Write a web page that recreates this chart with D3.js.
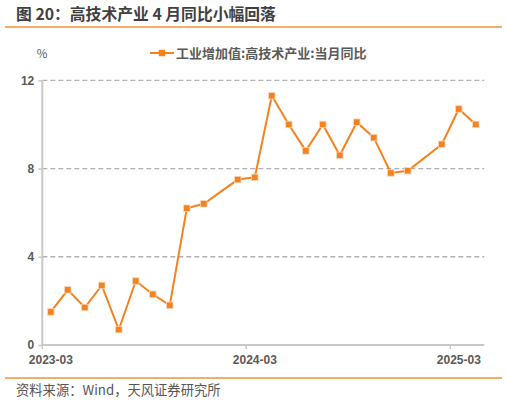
<!DOCTYPE html>
<html>
<head>
<meta charset="utf-8">
<script src="https://cdn.jsdelivr.net/npm/d3@7"></script>
<style>
  body { margin: 0; background: #fff; }
  text { font-family: "Noto Sans CJK SC", "Noto Sans", sans-serif; }
  .tick text { font-family: "Liberation Sans", Arial, sans-serif; }
</style>
</head>
<body>
<div id="chart"></div>
<script>
var svgWidth = 508;
var svgHeight = 400;

// months on the category axis (January is missing in the source data)
var months = [
  "2023-03", "2023-04", "2023-05", "2023-06", "2023-07", "2023-08", "2023-09",
  "2023-10", "2023-11", "2023-12", "2024-01", "2024-02", "2024-03", "2024-04",
  "2024-05", "2024-06", "2024-07", "2024-08", "2024-09", "2024-10", "2024-11",
  "2024-12", "2025-01", "2025-02", "2025-03", "2025-04"
];
var values = [
  1.5, 2.5, 1.7, 2.7, 0.7, 2.9, 2.3,
  1.8, 6.2, 6.4, null, 7.5, 7.6, 11.3,
  10.0, 8.8, 10.0, 8.6, 10.1, 9.4, 7.8,
  7.9, null, 9.1, 10.7, 10.0
];
var xTickLabels = ["2023-03", "2024-03", "2025-03"];
var yTicks = [0, 4, 8, 12];

var seriesName = "工业增加值:高技术产业:当月同比";
var titleText = "图 20：高技术产业 4 月同比小幅回落";
var sourceText = "资料来源：Wind，天风证券研究所";

var orange = "#F5821F";
var margin = { top: 80.3, right: 24, bottom: 55, left: 42.3 };
var width = 484.3 - margin.left;
var height = 345 - margin.top;

var svg = d3.select("#chart")
  .append("svg")
  .attr("width", svgWidth)
  .attr("height", svgHeight);

// title and rules
svg.append("text")
  .attr("x", 16)
  .attr("y", 20)
  .attr("font-size", 15.8)
  .attr("font-weight", "bold")
  .attr("fill", "#404040")
  .text(titleText);

svg.append("line")
  .attr("x1", 5).attr("x2", 502)
  .attr("y1", 27).attr("y2", 27)
  .attr("stroke", "#F0903A")
  .attr("stroke-width", 1.5);

svg.append("line")
  .attr("x1", 5).attr("x2", 502)
  .attr("y1", 378).attr("y2", 378)
  .attr("stroke", "#F0903A")
  .attr("stroke-width", 1.5);

svg.append("text")
  .attr("x", 16)
  .attr("y", 395)
  .attr("font-size", 13.3)
  .attr("fill", "#555")
  .text(sourceText);

var chartGroup = svg.append("g")
  .attr("transform", `translate(${margin.left}, ${margin.top})`);

var xScale = d3.scaleBand()
  .domain(months)
  .range([0, width])
  .padding(0);

var yScale = d3.scaleLinear()
  .domain([0, 12])
  .range([height, 0]);

// dashed gridlines
chartGroup.selectAll(".grid")
  .data(yTicks.filter(d => d > 0))
  .enter()
  .append("line")
  .attr("x1", 0)
  .attr("x2", width)
  .attr("y1", d => yScale(d))
  .attr("y2", d => yScale(d))
  .attr("stroke", "#b0b0b0")
  .attr("stroke-width", 1.3)
  .attr("stroke-dasharray", "5,3");

// y axis
var leftAxis = d3.axisLeft(yScale)
  .tickValues(yTicks)
  .tickSize(4)
  .tickPadding(4);

var yAxis = chartGroup.append("g").call(leftAxis);
yAxis.select(".domain").attr("stroke", "#c8c8c8").attr("stroke-width", 2)
  .attr("d", `M0,0V${height}`);
yAxis.selectAll(".tick line").attr("stroke", "#c8c8c8").attr("stroke-width", 1.5);
yAxis.selectAll(".tick text")
  .attr("font-size", 12)
  .attr("font-weight", "bold")
  .attr("fill", "#595959");

// x axis: tick marks at the band start of each March, labels centred on the band
var bottomAxis = d3.axisBottom(xScale)
  .tickValues(xTickLabels)
  .tickSize(4)
  .tickPadding(6);

var xAxis = chartGroup.append("g")
  .attr("transform", `translate(0, ${height})`)
  .call(bottomAxis);
xAxis.select(".domain").attr("stroke", "#c8c8c8").attr("stroke-width", 2)
  .attr("d", `M0,0H${width}`);
xAxis.selectAll(".tick")
  .attr("transform", d => `translate(${xScale(d)},0)`);
xAxis.selectAll(".tick line").attr("stroke", "#c8c8c8").attr("stroke-width", 1.5);
xAxis.selectAll(".tick text")
  .attr("x", xScale.bandwidth() / 2)
  .attr("font-size", 12)
  .attr("font-weight", "bold")
  .attr("fill", "#595959");

// unit label
svg.append("text")
  .attr("x", 42)
  .attr("y", 58)
  .attr("text-anchor", "middle")
  .attr("font-size", 11.5)
  .attr("fill", "#595959")
  .text("%");

// series
var data = months.map((m, i) => ({ month: m, value: values[i] }))
  .filter(d => d.value !== null);

var line = d3.line()
  .x(d => xScale(d.month) + xScale.bandwidth() / 2)
  .y(d => yScale(d.value));

chartGroup.append("path")
  .datum(data)
  .attr("fill", "none")
  .attr("stroke", orange)
  .attr("stroke-width", 2)
  .attr("d", line);

var ms = 6.5;
chartGroup.selectAll(".pt")
  .data(data)
  .enter()
  .append("rect")
  .attr("x", d => xScale(d.month) + xScale.bandwidth() / 2 - ms / 2)
  .attr("y", d => yScale(d.value) - ms / 2)
  .attr("width", ms)
  .attr("height", ms)
  .attr("fill", orange)
  .attr("stroke", "#f3d9c0")
  .attr("stroke-width", 0.8);

// legend
var legend = svg.append("g").attr("transform", "translate(150, 53)");
legend.append("line")
  .attr("x1", 0).attr("x2", 24)
  .attr("y1", 0).attr("y2", 0)
  .attr("stroke", orange)
  .attr("stroke-width", 2);
legend.append("rect")
  .attr("x", 12 - ms / 2).attr("y", -ms / 2)
  .attr("width", ms).attr("height", ms)
  .attr("fill", orange);
legend.append("text")
  .attr("x", 26)
  .attr("y", 4.5)
  .attr("font-size", 13)
  .attr("font-weight", "bold")
  .attr("fill", "#595959")
  .text(seriesName);
</script>
</body>
</html>
